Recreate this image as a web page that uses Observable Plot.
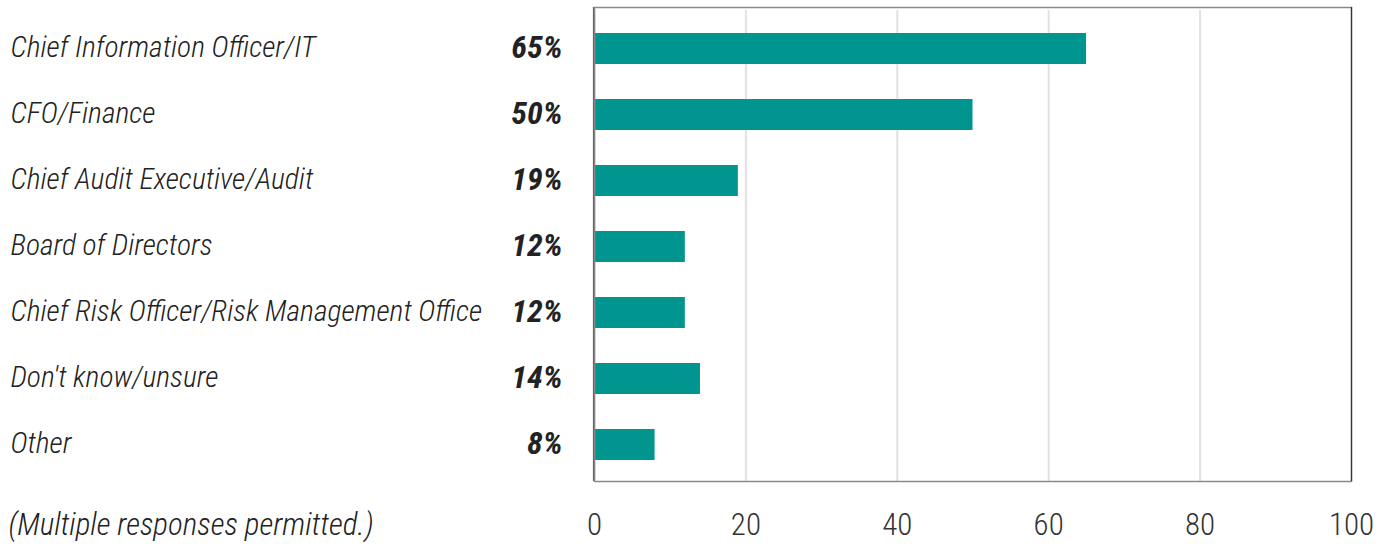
<!DOCTYPE html>
<html>
<head>
<meta charset="utf-8">
<script src="https://cdn.jsdelivr.net/npm/d3@7"></script>
<script src="https://cdn.jsdelivr.net/npm/@observablehq/plot@0.6"></script>
<style>
  html, body { margin: 0; padding: 0; background: #fff; }
  svg { display: block; }
  svg text { font-stretch: condensed; }
</style>
</head>
<body>
<div id="chart"></div>
<script>
const categories = [
  "Chief Information Officer/IT",
  "CFO/Finance",
  "Chief Audit Executive/Audit",
  "Board of Directors",
  "Chief Risk Officer/Risk Management Office",
  "Don't know/unsure",
  "Other"
];
const values = [65, 50, 19, 12, 12, 14, 8];
const xTicks = [0, 20, 40, 60, 80, 100];
const gridTicks = [0, 20, 40, 60, 80];
const footnote = "(Multiple responses permitted.)";

const data = categories.map((c, i) => ({category: c, value: values[i]}));
const font = "Roboto, sans-serif";

const chart = Plot.plot({
  width: 1383,
  height: 550,
  marginTop: 7,
  marginBottom: 69,
  marginLeft: 594,
  marginRight: 32,
  style: {fontFamily: font, background: "#fff", fontStretch: "condensed"},
  x: {domain: [0, 100], label: null},
  y: {domain: categories, range: [14, 479], paddingInner: 0.53, paddingOuter: 0.265, label: null, axis: null},
  marks: [
    Plot.ruleX(gridTicks, {stroke: "#e2e2e2", strokeWidth: 2, insetTop: 3}),
    Plot.barX(data, {x: "value", y: "category", fill: "#00968f"}),
    Plot.frame({stroke: "#8a8a8a", strokeWidth: 1.5}),
    Plot.ruleX([100], {stroke: "#333", strokeWidth: 1.2}),
    Plot.ruleX([0], {stroke: "#666", strokeWidth: 1.2, dx: -1}),
    Plot.axisX(xTicks, {tickSize: 0, tickPadding: 31, fontSize: 31, fontWeight: 300, fill: "#333", label: null, tickFormat: d => String(d)}),
    Plot.text(data, {
      x: 0, y: "category", text: "category",
      textAnchor: "start", dx: -584, dy: -1,
      fontSize: 29.6, fontStyle: "italic", fontWeight: 300, fill: "#222"
    }),
    Plot.text(data, {
      x: 0, y: "category", text: d => d.value + "%",
      textAnchor: "end", dx: -32, dy: -1,
      fontSize: 32, fontStyle: "italic", fontWeight: "bold", fill: "#222"
    }),
    Plot.text([footnote], {
      frameAnchor: "bottom-left", text: d => d,
      textAnchor: "start", dx: -586, dy: 53,
      fontSize: 31, fontStyle: "italic", fontWeight: 300, fill: "#222"
    })
  ]
});
document.getElementById("chart").appendChild(chart);
</script>
</body>
</html>
